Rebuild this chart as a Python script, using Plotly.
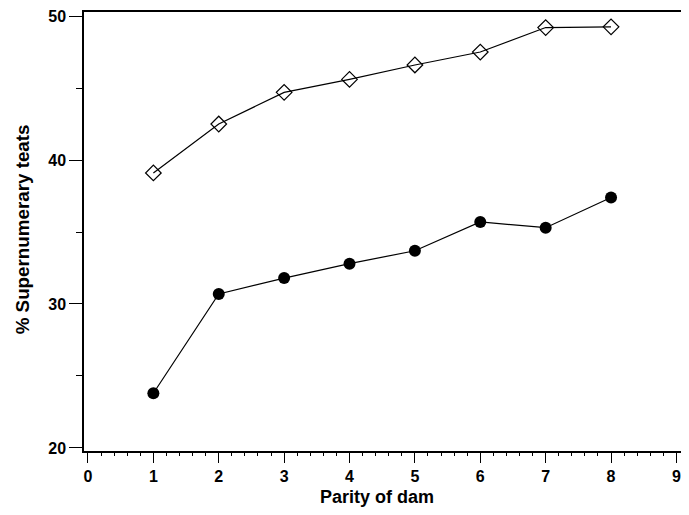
import plotly.graph_objects as go

parity = [1, 2, 3, 4, 5, 6, 7, 8]
series_diamond = [39.1, 42.5, 44.7, 45.6, 46.6, 47.5, 49.2, 49.25]
series_circle = [23.8, 30.7, 31.8, 32.8, 33.7, 35.7, 35.3, 37.4]

x_ticks = [0, 1, 2, 3, 4, 5, 6, 7, 8, 9]
y_ticks = [20, 30, 40, 50]

fig = go.Figure()
fig.add_trace(go.Scatter(
    x=parity, y=series_diamond, mode="lines+markers",
    line=dict(color="black", width=1.2),
    marker=dict(symbol="diamond-open", size=12, color="black", line=dict(width=1.2)),
    showlegend=False, cliponaxis=False,
))
fig.add_trace(go.Scatter(
    x=parity, y=series_circle, mode="lines+markers",
    line=dict(color="black", width=1.2),
    marker=dict(symbol="circle", size=12, color="black"),
    showlegend=False, cliponaxis=False,
))

FONT = "Liberation Sans, Arial, sans-serif"
tickfont = dict(family=FONT, size=16, color="black", weight="bold")

fig.update_layout(
    width=673, height=499,
    margin=dict(l=76, r=0, t=4, b=56),
    paper_bgcolor="white", plot_bgcolor="white",
    xaxis=dict(
        range=[-0.061, 9.07], tickvals=x_ticks, ticktext=[str(v) for v in x_ticks],
        automargin=False, ticklabeloverflow="allow",
        showgrid=False, zeroline=False,
        showline=True, linecolor="black", linewidth=1.5, mirror=True,
        ticks="outside", ticklen=10, tickwidth=1.2, tickcolor="black",
        minor=dict(dtick=0.2, ticks="outside", ticklen=3, tickwidth=1, tickcolor="black", showgrid=False),
        tickfont=tickfont,
    ),
    yaxis=dict(
        range=[19.79, 50.28], tickvals=y_ticks, ticktext=[str(v) for v in y_ticks],
        automargin=False, ticklabeloverflow="allow",
        showgrid=False, zeroline=False,
        showline=True, linecolor="black", linewidth=1.5, mirror=True,
        ticks="outside", ticklen=13, tickwidth=1.2, tickcolor="black",
        minor=dict(dtick=5, ticks="outside", ticklen=6, tickwidth=1, tickcolor="black", showgrid=False),
        tickfont=tickfont,
    ),
    annotations=[
        dict(text="Parity of dam", xref="paper", yref="paper", x=0.4916, y=0,
             xanchor="center", yanchor="middle", yshift=-46, showarrow=False,
             font=dict(family=FONT, size=18, color="black", weight="bold")),
        dict(text="% Supernumerary teats", xref="paper", yref="paper", x=0, y=0.505,
             xanchor="center", yanchor="middle", xshift=-62, textangle=-90, showarrow=False,
             font=dict(family=FONT, size=18.8, color="black", weight="bold")),
    ],
)

fig.write_html("out.html")
